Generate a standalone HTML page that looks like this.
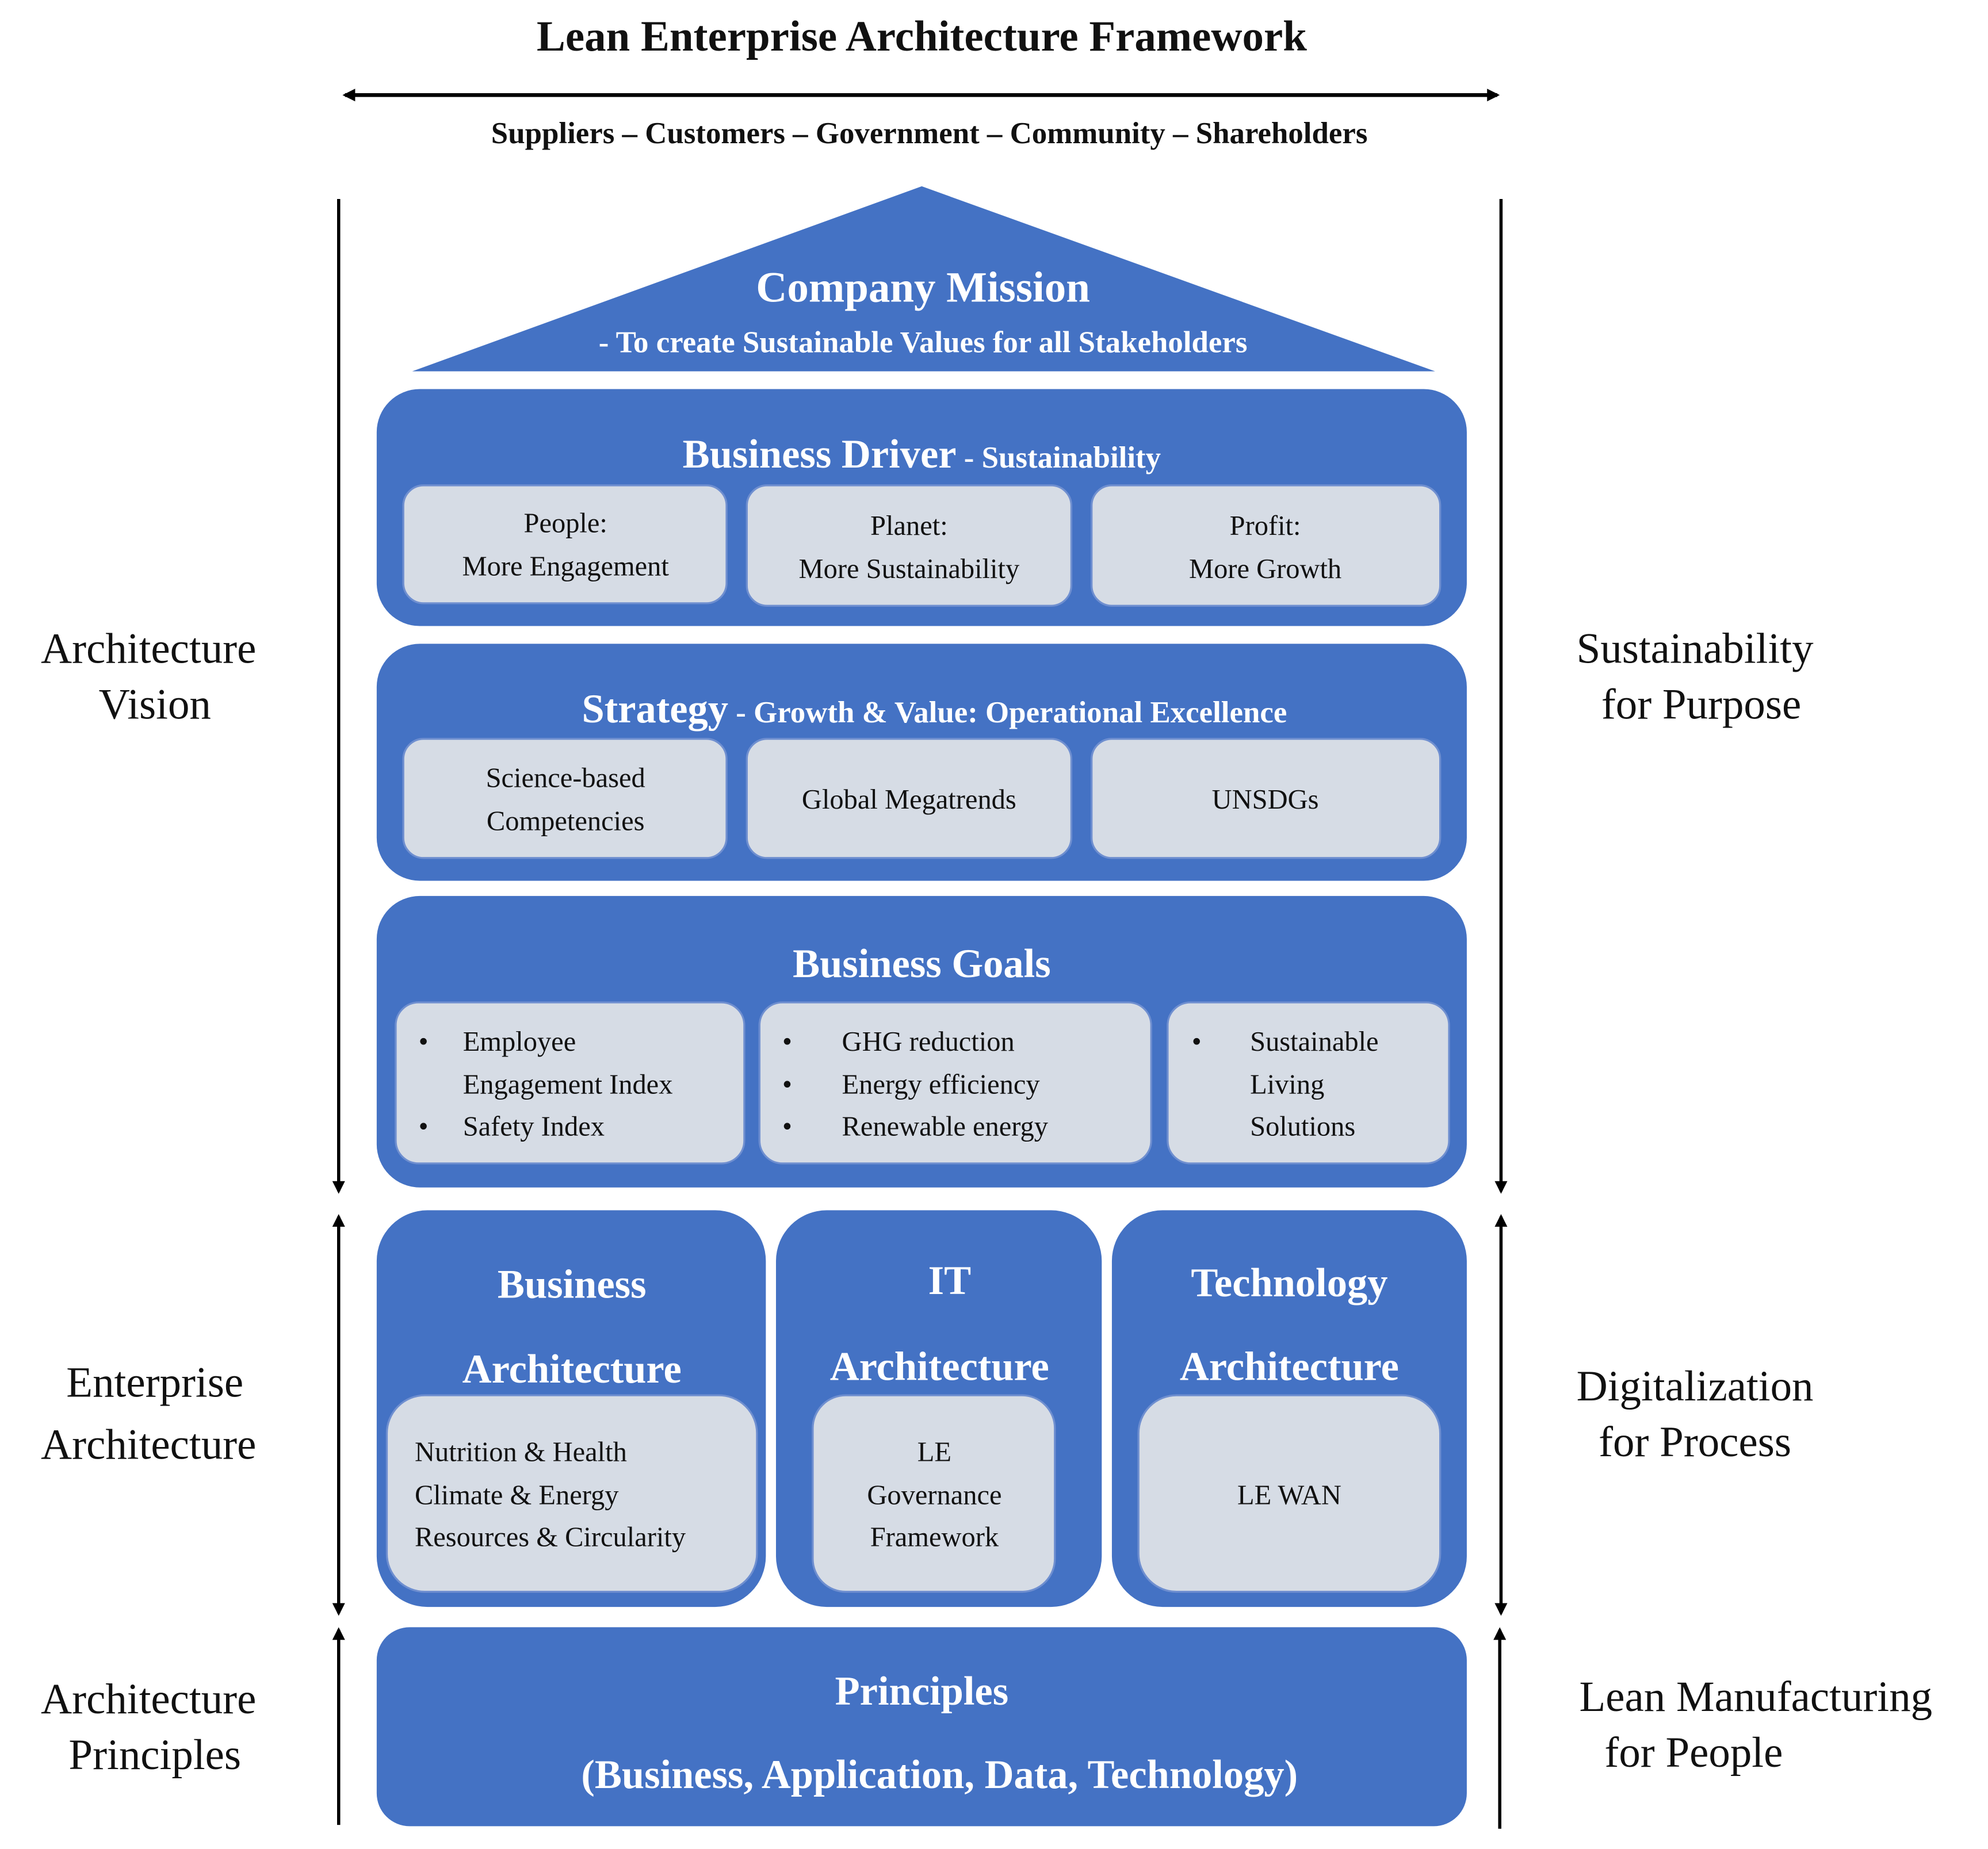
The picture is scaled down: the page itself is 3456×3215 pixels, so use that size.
<!DOCTYPE html>
<html><head><meta charset="utf-8"><style>
html,body{margin:0;padding:0;background:#fff;}
svg{display:block;}
text{font-family:"Liberation Serif",serif;}
.w{fill:#fff;font-weight:bold;}
.k{fill:#111;}
</style></head><body>
<svg width="3456" height="3215" viewBox="0 0 1568 1459" xmlns="http://www.w3.org/2000/svg">
<defs>
<marker id="ah" markerWidth="10" markerHeight="10" refX="8" refY="5" orient="auto-start-reverse" markerUnits="userSpaceOnUse">
<path d="M0,0 L10,5 L0,10 z" fill="#000"/>
</marker>
</defs>
<text x="727" y="40" text-anchor="middle" font-size="34" class="k" font-weight="bold">Lean Enterprise Architecture Framework</text>
<line x1="272" y1="75" x2="1181" y2="75" stroke="#000" stroke-width="3" marker-start="url(#ah)" marker-end="url(#ah)"/>
<text x="733" y="113" text-anchor="middle" font-size="24" class="k" font-weight="bold">Suppliers – Customers – Government – Community – Shareholders</text>

<!-- side arrows -->
<g stroke="#000" stroke-width="2.5">
<line x1="267" y1="157" x2="267" y2="940" marker-end="url(#ah)"/>
<line x1="267" y1="960" x2="267" y2="1273" marker-start="url(#ah)" marker-end="url(#ah)"/>
<line x1="267" y1="1286" x2="267" y2="1440" marker-start="url(#ah)"/>
<line x1="1184" y1="157" x2="1184" y2="940" marker-end="url(#ah)"/>
<line x1="1184" y1="960" x2="1184" y2="1273" marker-start="url(#ah)" marker-end="url(#ah)"/>
<line x1="1183" y1="1286" x2="1183" y2="1443" marker-start="url(#ah)"/>
</g>

<g font-size="34" class="k" text-anchor="middle">
<text x="117" y="523">Architecture</text><text x="122" y="567">Vision</text>
<text x="1337" y="523">Sustainability</text><text x="1342" y="567">for Purpose</text>
<text x="122" y="1102">Enterprise</text><text x="117" y="1151">Architecture</text>
<text x="1337" y="1105">Digitalization</text><text x="1337" y="1149">for Process</text>
<text x="117" y="1352">Architecture</text><text x="122" y="1396">Principles</text>
<text x="1385" y="1350">Lean Manufacturing</text><text x="1336" y="1394">for People</text>
</g>

<!-- triangle -->
<polygon points="727,147 1132,293 325,293" fill="#4472C4"/>
<text x="728" y="238" text-anchor="middle" font-size="34" class="w">Company Mission</text>
<text x="728" y="278" text-anchor="middle" font-size="24" class="w">- To create Sustainable Values for all Stakeholders</text>

<g fill="#4472C4">
<rect x="297" y="307" width="860" height="187" rx="34"/>
<rect x="297" y="508" width="860" height="187" rx="34"/>
<rect x="297" y="707" width="860" height="230" rx="34"/>
<rect x="297" y="955" width="307" height="313" rx="40"/>
<rect x="612" y="955" width="257" height="313" rx="40"/>
<rect x="877" y="955" width="280" height="313" rx="40"/>
<rect x="297" y="1284" width="860" height="157" rx="26"/>
</g>
<g fill="#D6DCE5" stroke="#6f8fd0" stroke-width="1.5">
<rect x="318" y="383" width="255" height="93" rx="16"/>
<rect x="589" y="383" width="256" height="95" rx="16"/>
<rect x="861" y="383" width="275" height="95" rx="16"/>
<rect x="318" y="583" width="255" height="94" rx="16"/>
<rect x="589" y="583" width="256" height="94" rx="16"/>
<rect x="861" y="583" width="275" height="94" rx="16"/>
<rect x="312" y="791" width="275" height="127" rx="18"/>
<rect x="599" y="791" width="309" height="127" rx="18"/>
<rect x="921" y="791" width="222" height="127" rx="18"/>
<rect x="305" y="1101" width="292" height="155" rx="30"/>
<rect x="641" y="1101" width="191" height="155" rx="26"/>
<rect x="898" y="1101" width="238" height="155" rx="30"/>
</g>

<text x="727" y="369" text-anchor="middle" class="w"><tspan font-size="32">Business Driver</tspan><tspan font-size="24"> - Sustainability</tspan></text>
<text x="737" y="570" text-anchor="middle" class="w"><tspan font-size="32">Strategy</tspan><tspan font-size="24"> - Growth &amp; Value: Operational Excellence</tspan></text>
<text x="727" y="771" text-anchor="middle" font-size="32" class="w">Business Goals</text>

<g font-size="22" class="k" text-anchor="middle">
<text x="446" y="420">People:</text><text x="446" y="454">More Engagement</text>
<text x="717" y="422">Planet:</text><text x="717" y="456">More Sustainability</text>
<text x="998" y="422">Profit:</text><text x="998" y="456">More Growth</text>
<text x="446" y="621">Science-based</text><text x="446" y="655">Competencies</text>
<text x="717" y="638">Global Megatrends</text>
<text x="998" y="638">UNSDGs</text>
</g>
<g font-size="22" class="k">
<text x="330" y="829">•</text><text x="365" y="829">Employee</text>
<text x="365" y="863">Engagement Index</text>
<text x="330" y="896">•</text><text x="365" y="896">Safety Index</text>
<text x="617" y="829">•</text><text x="664" y="829">GHG reduction</text>
<text x="617" y="863">•</text><text x="664" y="863">Energy efficiency</text>
<text x="617" y="896">•</text><text x="664" y="896">Renewable energy</text>
<text x="940" y="829">•</text><text x="986" y="829">Sustainable</text>
<text x="986" y="863">Living</text>
<text x="986" y="896">Solutions</text>
<text x="327" y="1153">Nutrition &amp; Health</text>
<text x="327" y="1187">Climate &amp; Energy</text>
<text x="327" y="1220">Resources &amp; Circularity</text>
</g>
<g font-size="22" class="k" text-anchor="middle">
<text x="737" y="1153">LE</text><text x="737" y="1187">Governance</text><text x="737" y="1220">Framework</text>
<text x="1017" y="1187">LE WAN</text>
</g>

<g font-size="32" class="w" text-anchor="middle">
<text x="451" y="1024">Business</text><text x="451" y="1091">Architecture</text>
<text x="749" y="1021">IT</text><text x="741" y="1089">Architecture</text>
<text x="1017" y="1023">Technology</text><text x="1017" y="1089">Architecture</text>
<text x="727" y="1345">Principles</text>
<text x="741" y="1411">(Business, Application, Data, Technology)</text>
</g>
</svg>
</body></html>
